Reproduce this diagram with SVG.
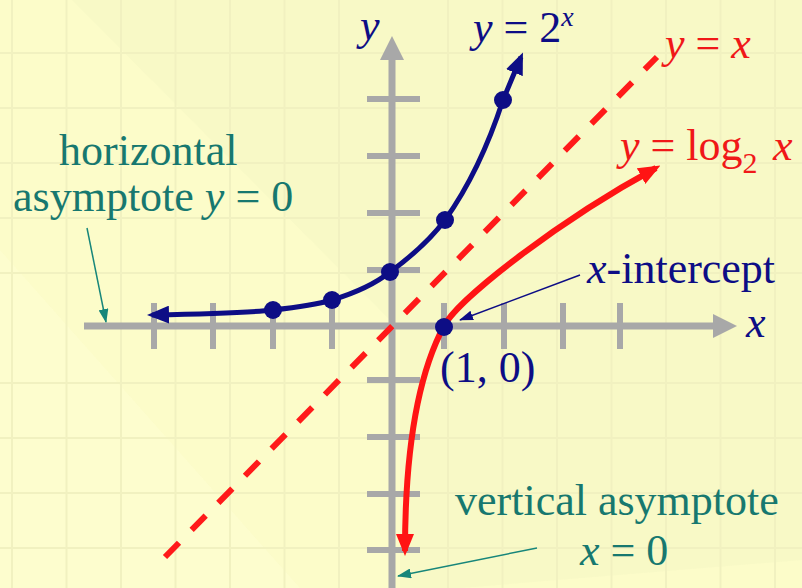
<svg xmlns="http://www.w3.org/2000/svg" width="802" height="588" viewBox="0 0 802 588">
<defs>
<style>
.t{font-family:"Liberation Serif","Times New Roman",serif;font-size:44px}
.it{font-style:italic}
.navy{fill:#0d0d85}
.red{fill:#f01818}
.teal{fill:#17786f}
.grid{stroke:#f1f1c0;stroke-width:2;fill:none}
.axis{stroke:#a8a8a8;stroke-width:7;fill:none}
.tick{stroke:#a8a8a8;stroke-width:6;fill:none}
</style>
<marker id="ab" viewBox="0 0 22 18" refX="17" refY="9" markerWidth="22" markerHeight="18" markerUnits="userSpaceOnUse" orient="auto-start-reverse"><path d="M0,0 L22,9 L0,18 z" fill="#0d0d85"/></marker>
<marker id="ar" viewBox="0 0 22 18" refX="17" refY="9" markerWidth="22" markerHeight="18" markerUnits="userSpaceOnUse" orient="auto-start-reverse"><path d="M0,0 L22,9 L0,18 z" fill="#ff1414"/></marker>
<marker id="at" viewBox="0 0 14 10" refX="13" refY="5" markerWidth="14" markerHeight="10" markerUnits="userSpaceOnUse" orient="auto"><path d="M0,0 L14,5 L0,10 z" fill="#17867a"/></marker>
<marker id="an" viewBox="0 0 14 10" refX="13" refY="5" markerWidth="14" markerHeight="10" markerUnits="userSpaceOnUse" orient="auto"><path d="M0,0 L14,5 L0,10 z" fill="#0d0d85"/></marker>
</defs>
<g id="background">
<rect x="0" y="0" width="802" height="588" fill="#fcfcc9"/>
<polygon points="72,0 802,0 802,560 460,588 400,588 400,330" fill="#f5f6c4" opacity="0.6"/>
<polygon points="0,250 0,588 300,588" fill="#fdfdd0" opacity="0.7"/>
<g class="grid">
<path d="M12,0V588M66.5,0V588M121,0V588M175.5,0V588M230,0V588M284.5,0V588M339,0V588M448,0V588M502.5,0V588M557,0V588M611.5,0V588M666,0V588M720.5,0V588M775,0V588"/>
<path d="M0,53H802M0,108H802M0,163H802M0,218H802M0,273H802M0,383H802M0,438H802M0,493H802M0,548H802"/>
</g>
</g>
<g id="axes">
<path class="axis" d="M84,326H715"/>
<polygon points="713,314 713,338 737,326" fill="#a8a8a8"/>
<path class="axis" d="M392,588V58"/>
<polygon points="380,60 404,60 392,36" fill="#a8a8a8"/>
<path class="tick" d="M154,303V349M213,303V349M273,303V349M332,303V349M444,303V349M504,303V349M563,303V349M620,303V349"/>
<path class="tick" d="M367,99H420M367,156H420M367,213H420M367,270H420M367,380H420M367,437H420M367,494H420M367,550H420"/>
</g>
<g id="connectors">
<path id="line-yx" d="M165,557 L657,57" stroke="#ff1a1a" stroke-width="6" stroke-dasharray="20 18" fill="none"/>
<path id="curve-exp" d="M152,315 C200,314 245,313 273,310 C300,307 315,305 332,300 C355,293 375,284 390,272 C412,256 430,240 445,220 C470,185 490,140 503,100 L521,57" stroke="#0d0d85" stroke-width="5" fill="none" marker-start="url(#ab)" marker-end="url(#ab)"/>
<path id="curve-log" d="M405,551 C405,465 415,380 444,326 C459,298 560,220 656,168" stroke="#ff1414" stroke-width="6" fill="none" marker-start="url(#ar)" marker-end="url(#ar)"/>
<path id="arrow-hasym" d="M87,228 L106,322" stroke="#17867a" stroke-width="1.5" fill="none" marker-end="url(#at)"/>
<path id="arrow-vasym" d="M537,548 L398,576" stroke="#17867a" stroke-width="1.5" fill="none" marker-end="url(#at)"/>
<path id="arrow-xint" d="M580,275 L460,320" stroke="#0d0d85" stroke-width="1.5" fill="none" marker-end="url(#an)"/>
</g>
<g id="points" fill="#0d0d85">
<circle cx="273" cy="310" r="9"/>
<circle cx="332" cy="300" r="9"/>
<circle cx="390" cy="272" r="9"/>
<circle cx="445" cy="220" r="9"/>
<circle cx="503" cy="100" r="9"/>
<circle cx="444" cy="327" r="9"/>
</g>
<g id="label-y-axis"><text class="t it navy" x="360" y="40">y</text></g>
<g id="label-x-axis"><text class="t it navy" x="746" y="337">x</text></g>
<g id="label-exp"><text class="t navy" x="473" y="42"><tspan class="it">y</tspan> = 2<tspan class="it" dy="-16" font-size="28">x</tspan></text></g>
<g id="label-identity"><text class="t red" x="665" y="58"><tspan class="it">y</tspan> = <tspan class="it">x</tspan></text></g>
<g id="label-log"><text class="t red" x="620" y="160"><tspan class="it">y</tspan> = log<tspan dy="13" font-size="30">2</tspan><tspan dy="-13" class="it" x="773">x</tspan></text></g>
<g id="label-hasym"><text class="t teal" x="59" y="165">horizontal</text><text class="t teal" x="13" y="211">asymptote <tspan class="it">y</tspan> = 0</text></g>
<g id="label-xint"><text class="t navy" x="587" y="283"><tspan class="it">x</tspan>-intercept</text></g>
<g id="label-point"><text class="t navy" x="440" y="382">(1, 0)</text></g>
<g id="label-vasym"><text class="t teal" x="455" y="515">vertical asymptote</text><text class="t teal" x="580" y="565"><tspan class="it">x</tspan> = 0</text></g>
</svg>
